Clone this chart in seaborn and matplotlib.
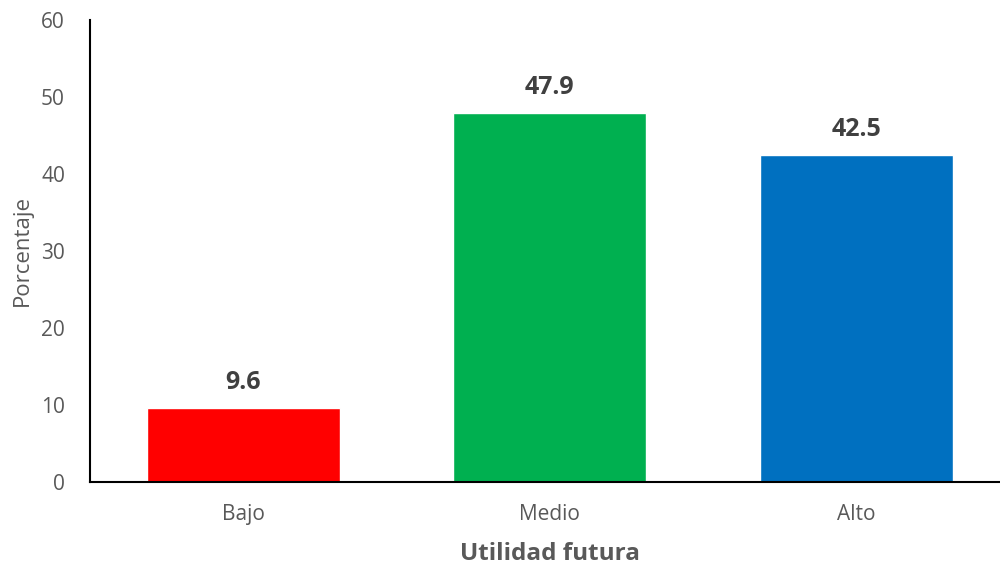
import seaborn as sns
import pandas as pd
import matplotlib.pyplot as plt

categorias = ['Bajo', 'Medio', 'Alto']
porcentajes = [9.6, 47.9, 42.5]
colores = ['#FF0000', '#00B050', '#0070C0']

sns.set_style('white')
plt.rcParams['font.family'] = ['Open Sans', 'DejaVu Sans']

df = pd.DataFrame({'Utilidad futura': categorias, 'Porcentaje': porcentajes})

fig = plt.figure(figsize=(10, 5.66), dpi=100)
ax = fig.add_axes([0.09, 0.1484, 0.9195, 0.8163])

sns.barplot(data=df, x='Utilidad futura', y='Porcentaje', hue='Utilidad futura',
            palette=colores, width=0.63, saturation=1, legend=False, ax=ax)

for i, v in enumerate(porcentajes):
    ax.annotate(f'{v:.1f}', (i, v), xytext=(0, 9.5), textcoords='offset points',
                ha='center', va='bottom', fontsize=18, fontweight='bold', color='#404040')

ax.set_ylim(0, 60)
ax.set_xlim(-0.5, 2.5)
ax.set_yticks(range(0, 61, 10))
ax.tick_params(axis='both', length=0, labelsize=15, labelcolor='#595959')
ax.tick_params(axis='y', pad=18)
ax.tick_params(axis='x', pad=16)
ax.set_ylabel('Porcentaje', fontsize=16, color='#595959', labelpad=6)
ax.set_xlabel('Utilidad futura', fontsize=17.5, fontweight='bold', color='#595959', labelpad=12)

for s in ['top', 'right']:
    ax.spines[s].set_visible(False)
for s in ['left', 'bottom']:
    ax.spines[s].set_color('black')
    ax.spines[s].set_linewidth(1.5)

fig.savefig('out.png', dpi=100)
